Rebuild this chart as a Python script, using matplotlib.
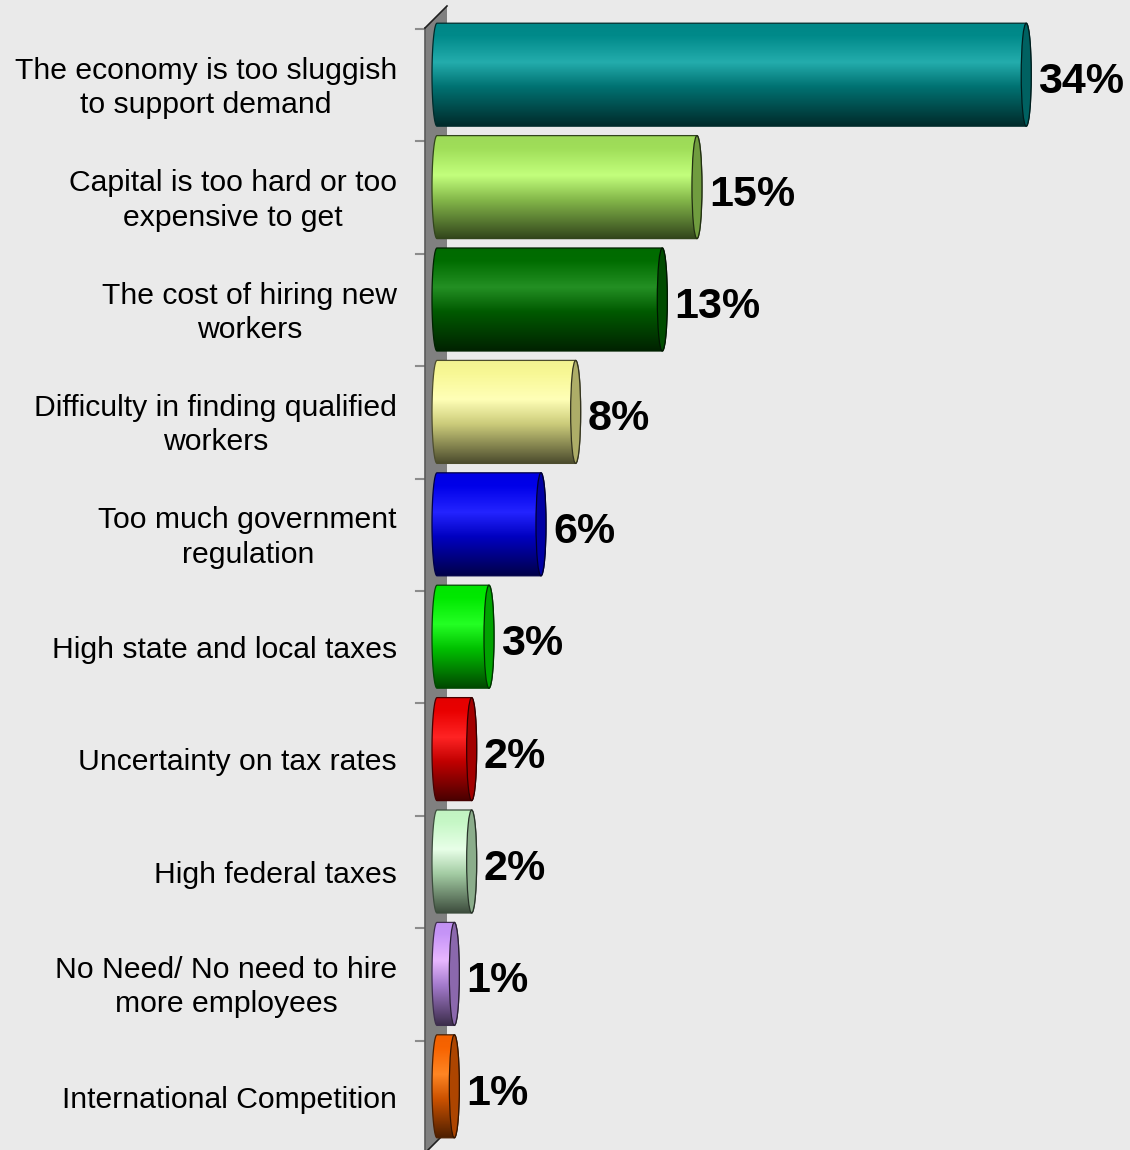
import numpy as np
import matplotlib
matplotlib.use("Agg")
import matplotlib.pyplot as plt
from matplotlib.patches import Ellipse, PathPatch, Polygon
from matplotlib.path import Path
from matplotlib.colors import to_rgb

# ---- data ----
categories = [
    "The economy is too sluggish\nto support demand",
    "Capital is too hard or too\nexpensive to get",
    "The cost of hiring new\nworkers",
    "Difficulty in finding qualified\nworkers",
    "Too much government\nregulation",
    "High state and local taxes",
    "Uncertainty on tax rates",
    "High federal taxes",
    "No Need/ No need to hire\nmore employees",
    "International Competition",
]
values = [34, 15, 13, 8, 6, 3, 2, 2, 1, 1]
value_labels = [f"{v}%" for v in values]
bar_colors = ["#008E8E", "#A5E55C", "#007000", "#FFFF99", "#0000F0",
              "#00F000", "#F00000", "#CCFFCC", "#CC99FF", "#FF6600"]

BG = "#EAEAEA"
FONT = "Liberation Sans"

# ---- geometry (pixel based layout helpers) ----
W, H = 1130, 1150
px_per_pt = 17.33      # horizontal pixels per percentage point
x_zero_px = 437        # pixel column of 0 %
pitch = 112.4          # pixels per category row
top_px = 29            # pixel row of first category boundary


def dx(p):
    return p / px_per_pt


def dy(p):
    return p / pitch


def to_data(px, py):
    return ((px - x_zero_px) / px_per_pt, (py - top_px) / pitch - 0.5)


fig = plt.figure(figsize=(W / 100, H / 100), dpi=100, facecolor=BG)
ax = fig.add_axes([0, 0, 1, 1])
ax.set_facecolor(BG)
ax.axis("off")

xlim = (-x_zero_px / px_per_pt, (W - x_zero_px) / px_per_pt)
ylim = ((H - top_px) / pitch - 0.5, -top_px / pitch - 0.5)

# ---- back wall ----
wall_pts = [to_data(425, 28), to_data(447, 6), to_data(447, 1131), to_data(425, 1153)]
ax.add_patch(Polygon(wall_pts, closed=True, facecolor="#808080",
                     edgecolor="none", zorder=1))
ax.plot([wall_pts[0][0], wall_pts[3][0]], [wall_pts[0][1], wall_pts[3][1]],
        color="#5A5A5A", lw=1.2, zorder=1.5)
ax.plot([wall_pts[0][0], wall_pts[1][0]], [wall_pts[0][1], wall_pts[1][1]],
        color="#202020", lw=1.2, zorder=1.5)
ax.plot([wall_pts[3][0], wall_pts[2][0]], [wall_pts[3][1], wall_pts[2][1]],
        color="#202020", lw=1.2, zorder=1.5)

# category tick marks on the axis
for k in range(len(categories) + 1):
    yk = k - 0.5
    ax.plot([dx(416 - x_zero_px), dx(425 - x_zero_px)], [yk, yk],
            color="#8C8C8C", lw=1.5, zorder=1.2)


def mix(c, f, white=0.0):
    c = np.clip(np.array(to_rgb(c)) * f, 0, 1)
    return c + (1 - c) * white


def gradient(base, n=256):
    stops = [0.0, 0.12, 0.38, 0.62, 1.0]
    cols = [mix(base, 0.95), mix(base, 0.97), mix(base, 1.12, 0.14),
            mix(base, 0.8), mix(base, 0.3)]
    t = np.linspace(0, 1, n)
    arr = np.stack([np.interp(t, stops, [c[j] for c in cols]) for j in range(3)], axis=-1)
    return arr[:, None, :]


hw = dx(5)          # half-width of the end ellipses
bar_h = dy(103)
shift = dy(10.5)

for i, (v, col) in enumerate(zip(values, bar_colors)):
    yc = i - shift
    yt, yb = yc - bar_h / 2, yc + bar_h / 2
    t = np.linspace(0, np.pi, 60)
    left = np.column_stack([-hw * np.sin(t), yc - (bar_h / 2) * np.cos(t)])
    right = np.column_stack([v + hw * np.sin(t), yc + (bar_h / 2) * np.cos(t)])
    verts = np.vstack([left, right, left[:1]])
    codes = [Path.MOVETO] + [Path.LINETO] * (len(verts) - 2) + [Path.CLOSEPOLY]
    body = Path(verts, codes)
    clip = PathPatch(body, facecolor="none", edgecolor="none", transform=ax.transData)
    ax.add_patch(clip)
    im = ax.imshow(gradient(col), extent=[-hw, v + hw, yb, yt], origin="upper",
                   aspect="auto", interpolation="bilinear", zorder=2)
    im.set_clip_path(clip)
    edge = mix(col, 0.3)
    ax.add_patch(PathPatch(body, facecolor="none", edgecolor=edge, lw=0.9, zorder=3))
    ax.add_patch(Ellipse((v, yc), 2 * hw, bar_h, facecolor=mix(col, 0.68),
                         edgecolor=mix(col, 0.2), lw=0.9, zorder=4))
    # value label
    ax.text(v + dx(12), i + dy(8), value_labels[i], ha="left", va="baseline",
            fontsize=31, fontweight="bold", family=FONT, color="black", zorder=5)
    # category label
    ax.text(dx(397 - x_zero_px), i + dy(2.8), categories[i], ha="right", va="center",
            multialignment="center", linespacing=1.3, fontsize=21.7,
            family=FONT, color="black", zorder=5)

ax.set_xlim(*xlim)
ax.set_ylim(*ylim)

fig.savefig("out.png", dpi=100, facecolor=BG)
